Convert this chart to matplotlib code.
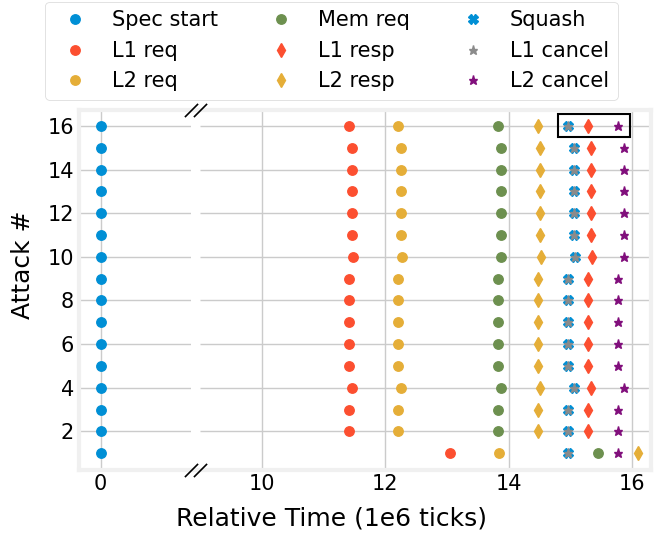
import matplotlib
matplotlib.use("Agg")
import matplotlib.pyplot as plt
from matplotlib.patches import Rectangle
from matplotlib.lines import Line2D

plt.style.use("fivethirtyeight")
plt.rcParams.update({
    "figure.facecolor": "white",
    "axes.facecolor": "white",
    "savefig.facecolor": "white",
    "savefig.edgecolor": "white",
    "font.family": "DejaVu Sans",
    "font.size": 15,
    "xtick.labelsize": 15,
    "ytick.labelsize": 15,
    "lines.markersize": 6.8,
})

# per-attack event times (1e6 ticks, relative to spec start)
attack = list(range(1, 17))
spec_start = [0.0] * 16
l1_req    = [13.04, 11.41, 11.41, 11.46, 11.41, 11.41, 11.41, 11.41,
             11.41, 11.47, 11.46, 11.46, 11.46, 11.46, 11.46, 11.41]
l2_req    = [13.84, 12.20, 12.20, 12.26, 12.20, 12.20, 12.20, 12.20,
             12.20, 12.27, 12.26, 12.26, 12.26, 12.26, 12.26, 12.20]
mem_req   = [15.45, 13.82, 13.82, 13.87, 13.82, 13.82, 13.82, 13.82,
             13.82, 13.88, 13.87, 13.87, 13.87, 13.87, 13.87, 13.82]
l1_resp   = [float("nan"), 15.28, 15.28, 15.33, 15.28, 15.28, 15.28, 15.28,
             15.28, 15.34, 15.33, 15.33, 15.33, 15.33, 15.33, 15.28]
l2_resp   = [16.09, 14.47, 14.47, 14.51, 14.47, 14.47, 14.47, 14.47,
             14.47, 14.52, 14.51, 14.51, 14.51, 14.51, 14.51, 14.47]
squash    = [14.96, 14.96, 14.96, 15.05, 14.96, 14.96, 14.96, 14.96,
             14.96, 15.07, 15.05, 15.05, 15.05, 15.05, 15.05, 14.96]
l1_cancel = [14.96, 14.96, 14.96, 15.05, 14.96, 14.96, 14.96, 14.96,
             14.96, 15.07, 15.05, 15.05, 15.05, 15.05, 15.05, 14.96]
l2_cancel = [15.76, 15.76, 15.76, 15.86, 15.76, 15.76, 15.76, 15.76,
             15.76, 15.87, 15.86, 15.86, 15.86, 15.86, 15.86, 15.76]

C = ["#008fd5", "#fc4f30", "#e5ae38", "#6d904f", "#8b8b8b", "#810f7c"]
series = [
    ("Spec start", spec_start, "o", C[0]),
    ("L1 req", l1_req, "o", C[1]),
    ("L2 req", l2_req, "o", C[2]),
    ("Mem req", mem_req, "o", C[3]),
    ("L1 resp", l1_resp, "d", C[1]),
    ("L2 resp", l2_resp, "d", C[2]),
    ("Squash", squash, "X", C[0]),
    ("L1 cancel", l1_cancel, "*", C[4]),
    ("L2 cancel", l2_cancel, "*", C[5]),
]

fig = plt.figure(figsize=(6.63, 5.35), dpi=100)
bottom, height = 0.1224, 0.6729
ax1 = fig.add_axes([0.1192, bottom, 0.1689, height])
ax2 = fig.add_axes([0.3017, bottom, 0.6802, height])

for ax in (ax1, ax2):
    for label, xs, m, c in series:
        ax.plot(xs, attack, marker=m, linestyle="none", color=c, label=label)
    ax.set_ylim(0.25, 16.75)
    ax.set_yticks(range(2, 17, 2))

ax1.set_xlim(-0.35, 1.46)
ax1.set_xticks([0])
ax2.set_xlim(9.0, 16.3)
ax2.set_xticks([10, 12, 14, 16])
ax2.tick_params(labelleft=False)

ax1.spines["right"].set_visible(False)
ax2.spines["left"].set_visible(False)

# keep the outer frame continuous across the gap
x_l, x_r = 0.1192 + 0.1689, 0.3017
for yy in (bottom, bottom + height):
    fig.add_artist(Line2D([x_l, x_r], [yy, yy], transform=fig.transFigure,
                          color="#f0f0f0", lw=3, zorder=-1))

# break marks
kw = dict(marker=[(-1, -1), (1, 1)], markersize=9.5, linestyle="none",
          color="k", mec="k", mew=1.2, clip_on=False, zorder=10)
ax1.plot([1, 1], [0, 1], transform=ax1.transAxes, **kw)
ax2.plot([0, 0], [0, 1], transform=ax2.transAxes, **kw)

# highlight first attack's squash window
ax2.add_patch(Rectangle((14.8, 15.47), 1.16, 1.07, fill=False,
                        edgecolor="black", lw=1.5, zorder=5))

handles, labels = ax2.get_legend_handles_labels()
fig.legend(handles, labels, loc="upper center", bbox_to_anchor=(0.5, 1.0),
           ncol=3, fontsize=15, borderaxespad=0.1)

fig.text(0.5, 0.03, "Relative Time (1e6 ticks)", ha="center", va="center",
         fontsize=18)
fig.text(0.035, 0.505, "Attack #", ha="center", va="center", rotation=90,
         fontsize=18)

fig.savefig("out.png", dpi=100)
